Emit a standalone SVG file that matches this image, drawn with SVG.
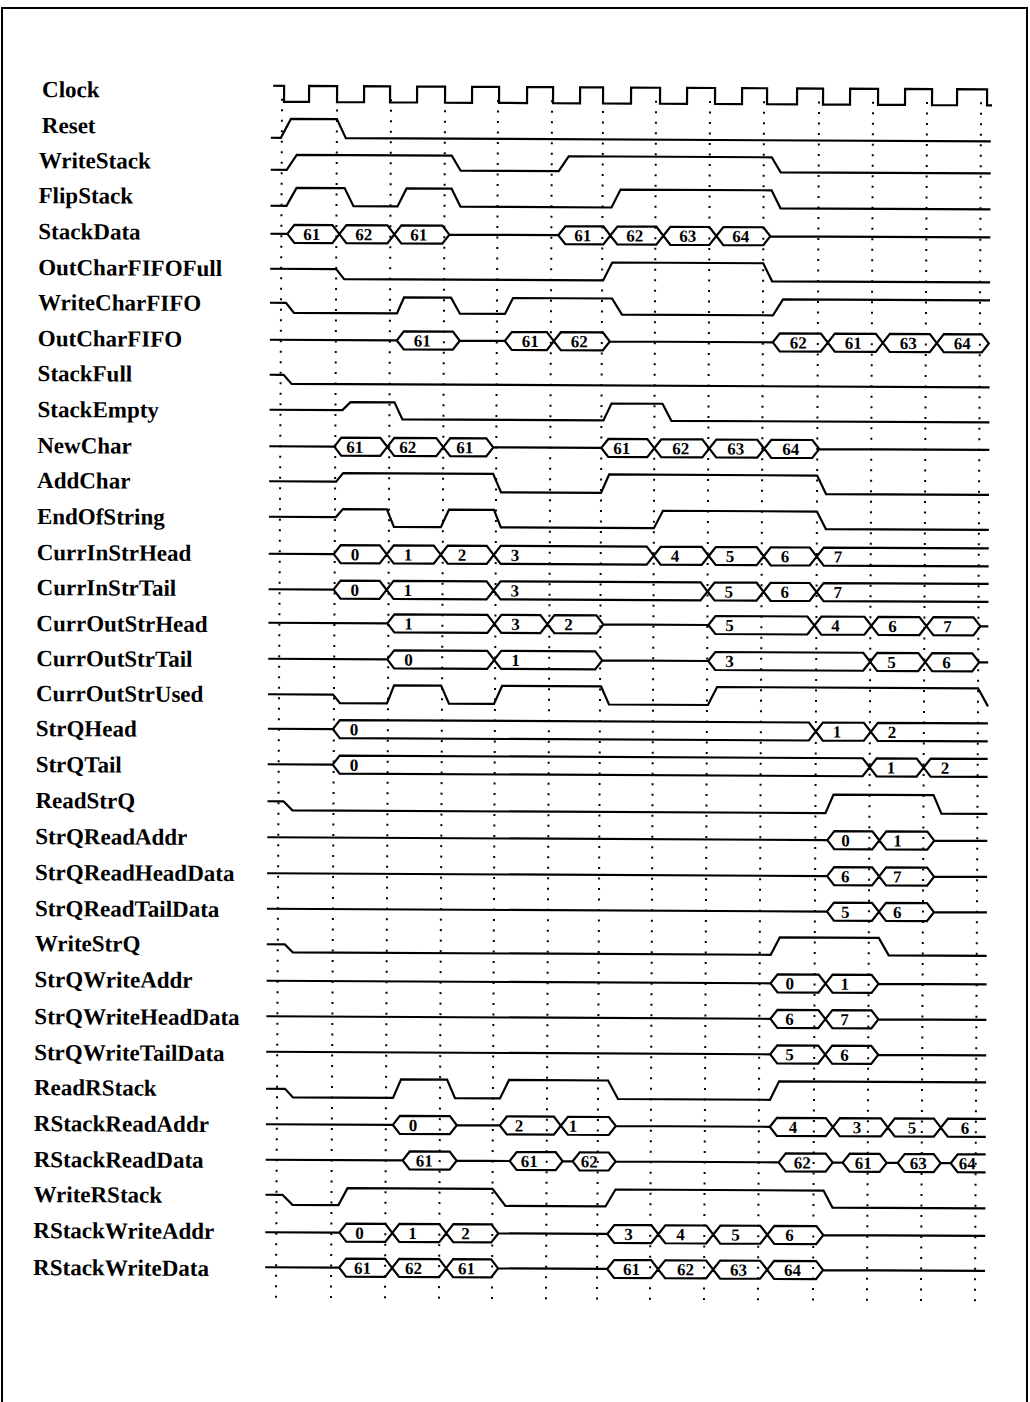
<svg xmlns="http://www.w3.org/2000/svg" width="1030" height="1402" viewBox="0 0 1030 1402">
<style>
.bg{fill:#fff}
.frame{fill:none;stroke:#000;stroke-width:2}
.lbl{font-family:"Liberation Serif","Times New Roman",serif;font-weight:bold;font-size:23px;fill:#000}
.v{font-family:"Liberation Serif","Times New Roman",serif;font-weight:bold;font-size:17px;fill:#000}
.w{fill:none;stroke:#000;stroke-width:2.2;stroke-linejoin:miter}
.g{fill:none;stroke:#000;stroke-width:2;stroke-dasharray:2 8.5}
</style>
<rect class="bg" x="0" y="0" width="1030" height="1402"/>
<path class="frame" d="M2,1402 V8 H1027 V1402"/>
<g transform="rotate(0.29 515 700)">
<g id="grid">
<path class="g" d="M279,100 V1303 M334,100 V1303 M388,100 V1303 M442,100 V1303 M495,100 V1303 M549,100 V1303 M600,100 V1303 M653,100 V1303 M707,100 V1303 M761,100 V1303 M816,100 V1303 M870,100 V1303 M924,100 V1303 M978,100 V1303"/>
</g>
<g id="sig-Clock"><text class="lbl" x="39" y="99.5">Clock</text>
<path class="w" d="M270,87 H281 V103 H306 V87 H334 V103 H361 V87 H387 V103 H414 V87 H442 V103 H469 V87 H496 V103 H524 V87 H550 V103 H577 V87 H600 V103 H628 V87 H657 V103 H684 V87 H712 V103 H739 V87 H764 V103 H794 V87 H820 V103 H847 V87 H875 V103 H902 V87 H929 V103 H954 V87 H984 V103 H989"/></g>
<g id="sig-Reset"><text class="lbl" x="39" y="135.5">Reset</text>
<path class="w" d="M268,139 H278 L288,120 H334 L343,139 H988"/></g>
<g id="sig-WriteStack"><text class="lbl" x="36" y="170.5">WriteStack</text>
<path class="w" d="M268,171 H284 L294,156 H449 L458,171 H556 L566,156 H769 L778,171 H988"/></g>
<g id="sig-FlipStack"><text class="lbl" x="36" y="205.5">FlipStack</text>
<path class="w" d="M268,207 H284 L294,189 H342 L351,207 H395 L404,189 H449 L458,207 H609 L618,189 H769 L778,207 H988"/></g>
<g id="sig-StackData"><text class="lbl" x="36" y="241.5">StackData</text>
<path class="w" d="M268,235 H285 M447,235 H556 M768,235 H988 M285,235 L292,226 H330 L337,235 L330,244 H292 Z M337,235 L344,226 H385 L392,235 L385,244 H344 Z M392,235 L399,226 H440 L447,235 L440,244 H399 Z M556,235 L563,226 H601 L608,235 L601,244 H563 Z M608,235 L615,226 H654 L661,235 L654,244 H615 Z M661,235 L668,226 H707 L714,235 L707,244 H668 Z M714,235 L721,226 H761 L768,235 L761,244 H721 Z"/>
<text class="v" x="301" y="241">61</text><text class="v" x="353" y="241">62</text><text class="v" x="408" y="241">61</text><text class="v" x="572" y="241">61</text><text class="v" x="624" y="241">62</text><text class="v" x="677" y="241">63</text><text class="v" x="730" y="241">64</text></g>
<g id="sig-OutCharFIFOFull"><text class="lbl" x="36" y="277.5">OutCharFIFOFull</text>
<path class="w" d="M268,270 H334 L342,280 H601 L610,262 H761 L770,280 H988"/></g>
<g id="sig-WriteCharFIFO"><text class="lbl" x="36" y="312.5">WriteCharFIFO</text>
<path class="w" d="M268,304 H284 L292,314 H395 L402,298 H449 L458,314 H503 L511,298 H610 L620,314 H771 L781,298 H988"/></g>
<g id="sig-OutCharFIFO"><text class="lbl" x="36" y="348.5">OutCharFIFO</text>
<path class="w" d="M268,341 H395 M458,341 H503 M608,341 H771 M395,341 L402,332 H451 L458,341 L451,350 H402 Z M503,341 L510,332 H545 L552,341 L545,350 H510 Z M552,341 L559,332 H601 L608,341 L601,350 H559 Z M771,341 L778,332 H819 L826,341 L819,350 H778 Z M826,341 L833,332 H874 L881,341 L874,350 H833 Z M881,341 L888,332 H928 L935,341 L928,350 H888 Z M935,341 L942,332 H980 L987,341 L980,350 H942 Z"/>
<text class="v" x="412" y="347">61</text><text class="v" x="520" y="347">61</text><text class="v" x="569" y="347">62</text><text class="v" x="788" y="347">62</text><text class="v" x="843" y="347">61</text><text class="v" x="898" y="347">63</text><text class="v" x="952" y="347">64</text></g>
<g id="sig-StackFull"><text class="lbl" x="36" y="383.5">StackFull</text>
<path class="w" d="M268,376 H282 L290,385 H988"/></g>
<g id="sig-StackEmpty"><text class="lbl" x="36" y="419.5">StackEmpty</text>
<path class="w" d="M268,411 H341 L349,403 H393 L401,420 H602 L610,403 H661 L670,420 H988"/></g>
<g id="sig-NewChar"><text class="lbl" x="36" y="455.5">NewChar</text>
<path class="w" d="M268,447.5 H333 M492,447.5 H600 M818,447.5 H988 M333,447.5 L340,438.5 H379 L386,447.5 L379,456.5 H340 Z M386,447.5 L393,438.5 H435 L442,447.5 L435,456.5 H393 Z M442,447.5 L449,438.5 H485 L492,447.5 L485,456.5 H449 Z M600,447.5 L607,438.5 H646 L653,447.5 L646,456.5 H607 Z M653,447.5 L660,438.5 H701 L708,447.5 L701,456.5 H660 Z M708,447.5 L715,438.5 H756 L763,447.5 L756,456.5 H715 Z M763,447.5 L770,438.5 H811 L818,447.5 L811,456.5 H770 Z"/>
<text class="v" x="345" y="453.5">61</text><text class="v" x="398" y="453.5">62</text><text class="v" x="455" y="453.5">61</text><text class="v" x="612" y="453.5">61</text><text class="v" x="671" y="453.5">62</text><text class="v" x="726" y="453.5">63</text><text class="v" x="781" y="453.5">64</text></g>
<g id="sig-AddChar"><text class="lbl" x="36" y="490.5">AddChar</text>
<path class="w" d="M268,482.5 H335 L342,474 H492 L500,492.5 H600 L608,474 H816 L825,492.5 H988"/></g>
<g id="sig-EndOfString"><text class="lbl" x="36" y="526.5">EndOfString</text>
<path class="w" d="M268,518 H335 L342,510 H386 L393,527.5 H440 L448,510 H493 L500,527.5 H653 L662,510 H816 L825,527.5 H988"/></g>
<g id="sig-CurrInStrHead"><text class="lbl" x="36" y="562.5">CurrInStrHead</text>
<path class="w" d="M268,555 H333 M333,555 L340,546 H379 L386,555 L379,564 H340 Z M386,555 L393,546 H433 L440,555 L433,564 H393 Z M440,555 L447,546 H486 L493,555 L486,564 H447 Z M493,555 L500,546 H646 L653,555 L646,564 H500 Z M653,555 L660,546 H701 L708,555 L701,564 H660 Z M708,555 L715,546 H756 L763,555 L756,564 H715 Z M763,555 L770,546 H809 L816,555 L809,564 H770 Z M988,546 H823 L816,555 L823,564 H988"/>
<text class="v" x="350" y="561">0</text><text class="v" x="403" y="561">1</text><text class="v" x="457" y="561">2</text><text class="v" x="510" y="561">3</text><text class="v" x="670" y="561">4</text><text class="v" x="725" y="561">5</text><text class="v" x="780" y="561">6</text><text class="v" x="833" y="561">7</text></g>
<g id="sig-CurrInStrTail"><text class="lbl" x="36" y="597.5">CurrInStrTail</text>
<path class="w" d="M268,590.5 H333 M333,590.5 L340,581.5 H379 L386,590.5 L379,599.5 H340 Z M386,590.5 L393,581.5 H486 L493,590.5 L486,599.5 H393 Z M493,590.5 L500,581.5 H700 L707,590.5 L700,599.5 H500 Z M707,590.5 L714,581.5 H756 L763,590.5 L756,599.5 H714 Z M763,590.5 L770,581.5 H809 L816,590.5 L809,599.5 H770 Z M988,581.5 H823 L816,590.5 L823,599.5 H988"/>
<text class="v" x="350" y="596.5">0</text><text class="v" x="403" y="596.5">1</text><text class="v" x="510" y="596.5">3</text><text class="v" x="724" y="596.5">5</text><text class="v" x="780" y="596.5">6</text><text class="v" x="833" y="596.5">7</text></g>
<g id="sig-CurrOutStrHead"><text class="lbl" x="36" y="633.5">CurrOutStrHead</text>
<path class="w" d="M268,624 H387 M603,624 H708 M980,624 H988 M387,624 L394,615 H487 L494,624 L487,633 H394 Z M494,624 L501,615 H540 L547,624 L540,633 H501 Z M547,624 L554,615 H596 L603,624 L596,633 H554 Z M708,624 L715,615 H807 L814,624 L807,633 H715 Z M814,624 L821,615 H864 L871,624 L864,633 H821 Z M871,624 L878,615 H919 L926,624 L919,633 H878 Z M926,624 L933,615 H973 L980,624 L973,633 H933 Z"/>
<text class="v" x="404" y="630">1</text><text class="v" x="511" y="630">3</text><text class="v" x="564" y="630">2</text><text class="v" x="725" y="630">5</text><text class="v" x="831" y="630">4</text><text class="v" x="888" y="630">6</text><text class="v" x="943" y="630">7</text></g>
<g id="sig-CurrOutStrTail"><text class="lbl" x="36" y="668.5">CurrOutStrTail</text>
<path class="w" d="M268,660 H387 M602,660 H708 M979,660 H988 M387,660 L394,651 H487 L494,660 L487,669 H394 Z M494,660 L501,651 H595 L602,660 L595,669 H501 Z M708,660 L715,651 H863 L870,660 L863,669 H715 Z M870,660 L877,651 H918 L925,660 L918,669 H877 Z M925,660 L932,651 H972 L979,660 L972,669 H932 Z"/>
<text class="v" x="404" y="666">0</text><text class="v" x="511" y="666">1</text><text class="v" x="725" y="666">3</text><text class="v" x="887" y="666">5</text><text class="v" x="942" y="666">6</text></g>
<g id="sig-CurrOutStrUsed"><text class="lbl" x="36" y="703.5">CurrOutStrUsed</text>
<path class="w" d="M268,695.5 H333 L340,704 H387 L394,686 H441 L449,704 H494 L502,686 H601 L609,704 H708 L717,686 H978 L988,704"/></g>
<g id="sig-StrQHead"><text class="lbl" x="36" y="738.5">StrQHead</text>
<path class="w" d="M268,730 H333 M333,730 L340,721 H809 L816,730 L809,739 H340 Z M816,730 L823,721 H864 L871,730 L864,739 H823 Z M988,721 H878 L871,730 L878,739 H988"/>
<text class="v" x="350" y="736">0</text><text class="v" x="833" y="736">1</text><text class="v" x="888" y="736">2</text></g>
<g id="sig-StrQTail"><text class="lbl" x="36" y="774.5">StrQTail</text>
<path class="w" d="M268,765.5 H333 M333,765.5 L340,756.5 H863 L870,765.5 L863,774.5 H340 Z M870,765.5 L877,756.5 H917 L924,765.5 L917,774.5 H877 Z M988,756.5 H931 L924,765.5 L931,774.5 H988"/>
<text class="v" x="350" y="771.5">0</text><text class="v" x="887" y="771.5">1</text><text class="v" x="941" y="771.5">2</text></g>
<g id="sig-ReadStrQ"><text class="lbl" x="36" y="810.5">ReadStrQ</text>
<path class="w" d="M268,802.5 H284 L293,811.5 H826 L834,793 H934 L942,811.5 H988"/></g>
<g id="sig-StrQReadAddr"><text class="lbl" x="36" y="846.5">StrQReadAddr</text>
<path class="w" d="M268,838.5 H828 M935,838.5 H988 M828,838.5 L835,829.5 H873 L880,838.5 L873,847.5 H835 Z M880,838.5 L887,829.5 H928 L935,838.5 L928,847.5 H887 Z"/>
<text class="v" x="842" y="844.5">0</text><text class="v" x="894" y="844.5">1</text></g>
<g id="sig-StrQReadHeadData"><text class="lbl" x="36" y="882.5">StrQReadHeadData</text>
<path class="w" d="M268,874.5 H828 M935,874.5 H988 M828,874.5 L835,865.5 H873 L880,874.5 L873,883.5 H835 Z M880,874.5 L887,865.5 H928 L935,874.5 L928,883.5 H887 Z"/>
<text class="v" x="842" y="880.5">6</text><text class="v" x="894" y="880.5">7</text></g>
<g id="sig-StrQReadTailData"><text class="lbl" x="36" y="918.5">StrQReadTailData</text>
<path class="w" d="M268,910 H828 M935,910 H988 M828,910 L835,901 H873 L880,910 L873,919 H835 Z M880,910 L887,901 H928 L935,910 L928,919 H887 Z"/>
<text class="v" x="842" y="916">5</text><text class="v" x="894" y="916">6</text></g>
<g id="sig-WriteStrQ"><text class="lbl" x="36" y="953.5">WriteStrQ</text>
<path class="w" d="M268,945.5 H286 L294,953.5 H772 L781,936 H880 L890,953.5 H988"/></g>
<g id="sig-StrQWriteAddr"><text class="lbl" x="36" y="989.5">StrQWriteAddr</text>
<path class="w" d="M268,982 H772 M880,982 H988 M772,982 L779,973 H820 L827,982 L820,991 H779 Z M827,982 L834,973 H873 L880,982 L873,991 H834 Z"/>
<text class="v" x="787" y="988">0</text><text class="v" x="842" y="988">1</text></g>
<g id="sig-StrQWriteHeadData"><text class="lbl" x="36" y="1026.5">StrQWriteHeadData</text>
<path class="w" d="M268,1017.5 H772 M880,1017.5 H988 M772,1017.5 L779,1008.5 H820 L827,1017.5 L820,1026.5 H779 Z M827,1017.5 L834,1008.5 H873 L880,1017.5 L873,1026.5 H834 Z"/>
<text class="v" x="787" y="1023.5">6</text><text class="v" x="842" y="1023.5">7</text></g>
<g id="sig-StrQWriteTailData"><text class="lbl" x="36" y="1062.5">StrQWriteTailData</text>
<path class="w" d="M268,1053 H772 M880,1053 H988 M772,1053 L779,1044 H820 L827,1053 L820,1062 H779 Z M827,1053 L834,1044 H873 L880,1053 L873,1062 H834 Z"/>
<text class="v" x="787" y="1059">5</text><text class="v" x="842" y="1059">6</text></g>
<g id="sig-ReadRStack"><text class="lbl" x="36" y="1097.5">ReadRStack</text>
<path class="w" d="M268,1090 H287 L295,1098.5 H395 L403,1080 H449 L457,1098.5 H502 L511,1080 H610 L620,1098.5 H772 L781,1080 H988"/></g>
<g id="sig-RStackReadAddr"><text class="lbl" x="36" y="1133.5">RStackReadAddr</text>
<path class="w" d="M268,1125.5 H395 M459,1125.5 H502 M618,1125.5 H772 M395,1125.5 L402,1116.5 H452 L459,1125.5 L452,1134.5 H402 Z M502,1125.5 L509,1116.5 H556 L563,1125.5 L556,1134.5 H509 Z M563,1125.5 L570,1116.5 H611 L618,1125.5 L611,1134.5 H570 Z M772,1125.5 L779,1116.5 H828 L835,1125.5 L828,1134.5 H779 Z M835,1125.5 L842,1116.5 H883 L890,1125.5 L883,1134.5 H842 Z M890,1125.5 L897,1116.5 H936 L943,1125.5 L936,1134.5 H897 Z M988,1116.5 H950 L943,1125.5 L950,1134.5 H988"/>
<text class="v" x="411" y="1131.5">0</text><text class="v" x="517" y="1131.5">2</text><text class="v" x="571" y="1131.5">1</text><text class="v" x="791" y="1131.5">4</text><text class="v" x="855" y="1131.5">3</text><text class="v" x="910" y="1131.5">5</text><text class="v" x="963" y="1131.5">6</text></g>
<g id="sig-RStackReadData"><text class="lbl" x="36" y="1169.5">RStackReadData</text>
<path class="w" d="M268,1161 H405 M459,1161 H512 M565,1161 H575 M618,1161 H781 M835,1161 H845 M889,1161 H900 M943,1161 H953 M405,1161 L412,1152 H452 L459,1161 L452,1170 H412 Z M512,1161 L519,1152 H558 L565,1161 L558,1170 H519 Z M575,1161 L582,1152 H611 L618,1161 L611,1170 H582 Z M781,1161 L788,1152 H828 L835,1161 L828,1170 H788 Z M845,1161 L852,1152 H882 L889,1161 L882,1170 H852 Z M900,1161 L907,1152 H936 L943,1161 L936,1170 H907 Z M988,1152 H960 L953,1161 L960,1170 H988"/>
<text class="v" x="418" y="1167">61</text><text class="v" x="523" y="1167">61</text><text class="v" x="583" y="1167">62</text><text class="v" x="796" y="1167">62</text><text class="v" x="857" y="1167">61</text><text class="v" x="912" y="1167">63</text><text class="v" x="961" y="1167">64</text></g>
<g id="sig-WriteRStack"><text class="lbl" x="36" y="1204.5">WriteRStack</text>
<path class="w" d="M268,1196 H285 L295,1206 H341 L350,1189 H495 L508,1206 H608 L618,1189 H826 L835,1206 H988"/></g>
<g id="sig-RStackWriteAddr"><text class="lbl" x="36" y="1240.5">RStackWriteAddr</text>
<path class="w" d="M268,1233.5 H342 M501,1233.5 H610 M826,1233.5 H988 M342,1233.5 L349,1224.5 H388 L395,1233.5 L388,1242.5 H349 Z M395,1233.5 L402,1224.5 H442 L449,1233.5 L442,1242.5 H402 Z M449,1233.5 L456,1224.5 H494 L501,1233.5 L494,1242.5 H456 Z M610,1233.5 L617,1224.5 H654 L661,1233.5 L654,1242.5 H617 Z M661,1233.5 L668,1224.5 H709 L716,1233.5 L709,1242.5 H668 Z M716,1233.5 L723,1224.5 H763 L770,1233.5 L763,1242.5 H723 Z M770,1233.5 L777,1224.5 H819 L826,1233.5 L819,1242.5 H777 Z"/>
<text class="v" x="358" y="1239.5">0</text><text class="v" x="411" y="1239.5">1</text><text class="v" x="464" y="1239.5">2</text><text class="v" x="627" y="1239.5">3</text><text class="v" x="679" y="1239.5">4</text><text class="v" x="734" y="1239.5">5</text><text class="v" x="788" y="1239.5">6</text></g>
<g id="sig-RStackWriteData"><text class="lbl" x="36" y="1277.5">RStackWriteData</text>
<path class="w" d="M268,1268.5 H342 M501,1268.5 H610 M826,1268.5 H988 M342,1268.5 L349,1259.5 H388 L395,1268.5 L388,1277.5 H349 Z M395,1268.5 L402,1259.5 H442 L449,1268.5 L442,1277.5 H402 Z M449,1268.5 L456,1259.5 H494 L501,1268.5 L494,1277.5 H456 Z M610,1268.5 L617,1259.5 H654 L661,1268.5 L654,1277.5 H617 Z M661,1268.5 L668,1259.5 H709 L716,1268.5 L709,1277.5 H668 Z M716,1268.5 L723,1259.5 H763 L770,1268.5 L763,1277.5 H723 Z M770,1268.5 L777,1259.5 H819 L826,1268.5 L819,1277.5 H777 Z"/>
<text class="v" x="357" y="1274.5">61</text><text class="v" x="408" y="1274.5">62</text><text class="v" x="461" y="1274.5">61</text><text class="v" x="626" y="1274.5">61</text><text class="v" x="680" y="1274.5">62</text><text class="v" x="733" y="1274.5">63</text><text class="v" x="787" y="1274.5">64</text></g>
</g>
</svg>
